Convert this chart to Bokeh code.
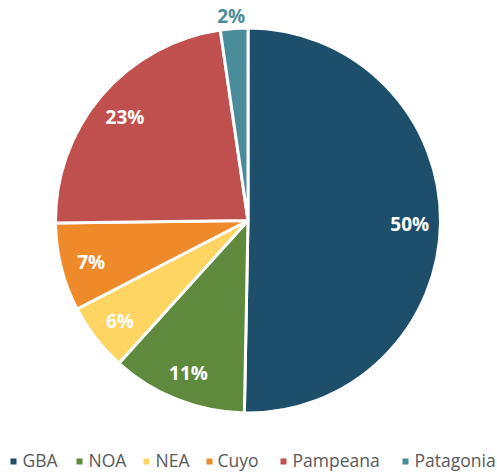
import math
from bokeh.plotting import figure
from bokeh.models import Range1d, ColumnDataSource
from bokeh.core.properties import value
from bokeh.embed import file_html
from bokeh.resources import INLINE

categories = ["GBA", "NOA", "NEA", "Cuyo", "Pampeana", "Patagonia"]
shares = [50.3, 11.4, 5.7, 7.4, 22.9, 2.3]
colors = ["#1d4f6b", "#5f8a3e", "#fed462", "#ef8a2b", "#c0504e", "#4b8c9a"]

# layout constants (screen-space)
W, H = 497, 474
CX, CY, R = 247.5, 254.0, 192.5
LEGEND_Y = 13
LEGEND_MARK_X = [13, 79, 146, 209, 283, 405]
LEGEND_TEXT_X = [22, 88, 155, 217, 292, 414]

p = figure(width=W, height=H, x_range=Range1d(0, W), y_range=Range1d(0, H),
           output_backend="svg", toolbar_location=None, min_border=0)
p.axis.visible = False
p.grid.visible = False
p.outline_line_color = None
p.background_fill_color = None
p.border_fill_color = None

total = sum(shares)
starts, ends, mids = [], [], []
cum = 0.0
for s in shares:
    a0 = math.pi / 2 - 2 * math.pi * cum / total
    cum += s
    a1 = math.pi / 2 - 2 * math.pi * cum / total
    starts.append(a0)
    ends.append(a1)
    mids.append((a0 + a1) / 2)

src = ColumnDataSource(dict(x=[CX] * len(shares), y=[CY] * len(shares),
                            start=starts, end=ends, color=colors, cat=categories))
p.wedge(x="x", y="y", radius=R, start_angle="start", end_angle="end",
        direction="clock", fill_color="color", line_color="white", line_width=3,
        source=src)

lab = [f"{round(s / total * 100)}%" for s in shares]
in_x, in_y, in_t = [], [], []
out_x, out_y, out_t, out_c = [], [], [], []
for s, m, t, c in zip(shares, mids, lab, colors):
    if s / total * 100 >= 5:
        r = 0.84 * R
        in_x.append(CX + r * math.cos(m)); in_y.append(CY + r * math.sin(m)); in_t.append(t)
    else:
        r = 1.065 * R
        out_x.append(CX + r * math.cos(m)); out_y.append(CY + r * math.sin(m)); out_t.append(t); out_c.append(c)

p.text(x=in_x, y=in_y, text=in_t, text_align="center", text_baseline="middle",
       text_color="white", text_font=value("Open Sans"), text_font_style="bold",
       text_font_size="19px", y_offset=2)
p.text(x=out_x, y=out_y, text=out_t, text_align="center", text_baseline="middle",
       text_color=out_c, text_font=value("Open Sans"), text_font_style="bold",
       text_font_size="19px", x_offset=-2)

# legend
p.scatter(x=LEGEND_MARK_X, y=[LEGEND_Y] * 6, marker="square", size=6,
          fill_color=colors, line_color=None)
p.text(x=LEGEND_TEXT_X, y=[LEGEND_Y] * 6, text=categories, text_align="left",
       text_baseline="middle", text_color="#595959", text_font=value("Open Sans"),
       text_font_size="17.5px", y_offset=-2)

open("out.html", "w").write(file_html(p, INLINE))
